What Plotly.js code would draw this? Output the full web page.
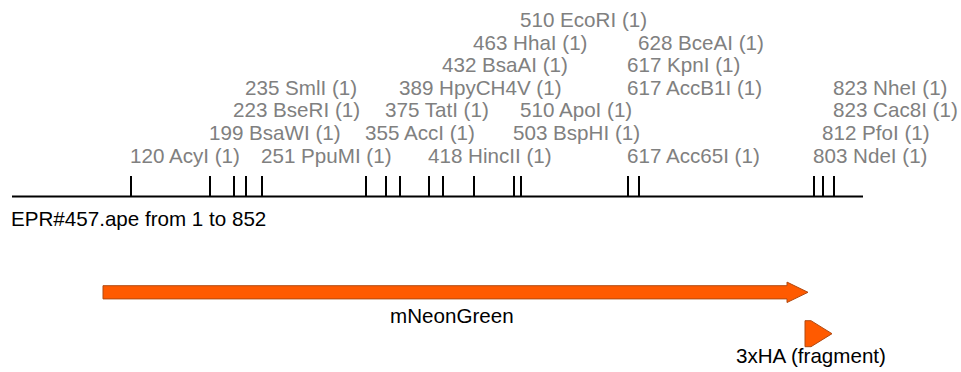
<!DOCTYPE html>
<html>
<head>
<meta charset="utf-8">
<script src="https://cdn.plot.ly/plotly-3.0.1.min.js"></script>
<style>html,body{margin:0;padding:0;background:#fff;}#chart{width:961px;height:372px;}</style>
</head>
<body>
<div id="chart"></div>
<script>
// ---- data ----
const seqName = 'EPR#457.ape';
const seqStart = 1;
const seqEnd = 852;

const sitePositions = [120, 199, 223, 235, 251, 355, 375, 389, 418, 432, 463, 503, 510, 510, 617, 617, 617, 628, 803, 812, 823, 823];
const siteNames = ['AcyI', 'BsaWI', 'BseRI', 'SmlI', 'PpuMI', 'AccI', 'TatI', 'HpyCH4V', 'HincII', 'BsaAI', 'HhaI', 'BspHI', 'ApoI', 'EcoRI', 'Acc65I', 'AccB1I', 'KpnI', 'BceAI', 'NdeI', 'PfoI', 'Cac8I', 'NheI'];
const siteCounts = [1, 1, 1, 1, 1, 1, 1, 1, 1, 1, 1, 1, 1, 1, 1, 1, 1, 1, 1, 1, 1, 1];
const siteRows = [0, 1, 2, 3, 0, 1, 2, 3, 0, 4, 5, 1, 2, 6, 0, 3, 4, 5, 0, 1, 2, 3];

const featureNames = ['mNeonGreen', '3xHA (fragment)'];
const featureStarts = [92, 794];
const featureEnds = [797, 821];

// ---- layout helpers (pixel rows) ----
const baseY = 196.5, tickTop = 176;
const rowY = r => 155 - 22.6 * r;
const featY = [292.3, 333.7];
const featLabelY = [315, 355.5];
const featLabelShift = [-4, -8];
const featHalf = [6.6, 13];
const headHalf = [10.2, 13];
const headLen = 21;
const labelFont = 'Liberation Sans, Arial, Helvetica, sans-serif';
const fs = 20.6;
const orange = '#ff5a00', orangeEdge = '#b04a12';

const traces = [];
// baseline
traces.push({x: [seqStart, seqEnd], y: [baseY, baseY], mode: 'lines',
  line: {color: '#000', width: 2}, hoverinfo: 'skip'});
// cut-site ticks
const uniq = [...new Set(sitePositions)];
const tx = [], ty = [];
uniq.forEach(p => { tx.push(p, p, null); ty.push(tickTop, baseY, null); });
traces.push({x: tx, y: ty, mode: 'lines', line: {color: '#000', width: 2}, hoverinfo: 'skip'});

// features
featureNames.forEach((n, i) => {
  const s = featureStarts[i], e = featureEnds[i], c = featY[i];
  const hs = Math.max(s, e - headLen);
  let xs, ys;
  if (hs <= s) {
    xs = [s, e, s, s];
    ys = [c - headHalf[i], c, c + headHalf[i], c - headHalf[i]];
  } else {
    const h = featHalf[i], H = headHalf[i];
    xs = [s, hs, hs, e, hs, hs, s, s];
    ys = [c - h, c - h, c - H, c, c + H, c + h, c + h, c - h];
  }
  traces.push({x: xs, y: ys, mode: 'lines', fill: 'toself', fillcolor: orange,
    line: {color: orangeEdge, width: 1}, hoverinfo: 'skip'});
});

const annotations = [];
sitePositions.forEach((p, i) => {
  annotations.push({x: p, y: rowY(siteRows[i]), xref: 'x', yref: 'y',
    text: p + ' ' + siteNames[i] + ' (' + siteCounts[i] + ')',
    showarrow: false, xanchor: 'left', yanchor: 'middle', xshift: -3,
    font: {family: labelFont, size: fs, color: '#808080'}});
});
annotations.push({x: seqStart, y: 218.5, xref: 'x', yref: 'y',
  text: seqName + ' from ' + seqStart + ' to ' + seqEnd,
  showarrow: false, xanchor: 'left', yanchor: 'middle', xshift: -3,
  font: {family: labelFont, size: fs, color: '#000'}});
featureNames.forEach((n, i) => {
  annotations.push({x: (featureStarts[i] + featureEnds[i]) / 2, y: featLabelY[i], xref: 'x', yref: 'y',
    text: n, showarrow: false, xanchor: 'center', yanchor: 'middle', xshift: featLabelShift[i],
    font: {family: labelFont, size: fs, color: '#000'}});
});

const layout = {
  width: 961, height: 372,
  margin: {l: 0, r: 0, t: 0, b: 0, pad: 0},
  paper_bgcolor: '#fff', plot_bgcolor: '#fff',
  showlegend: false,
  xaxis: {range: [-11, 950], visible: false, fixedrange: true},
  yaxis: {range: [372, 0], visible: false, fixedrange: true},
  annotations: annotations,
  hovermode: false
};
Plotly.newPlot('chart', traces, layout, {staticPlot: true, displayModeBar: false});
</script>
</body>
</html>
